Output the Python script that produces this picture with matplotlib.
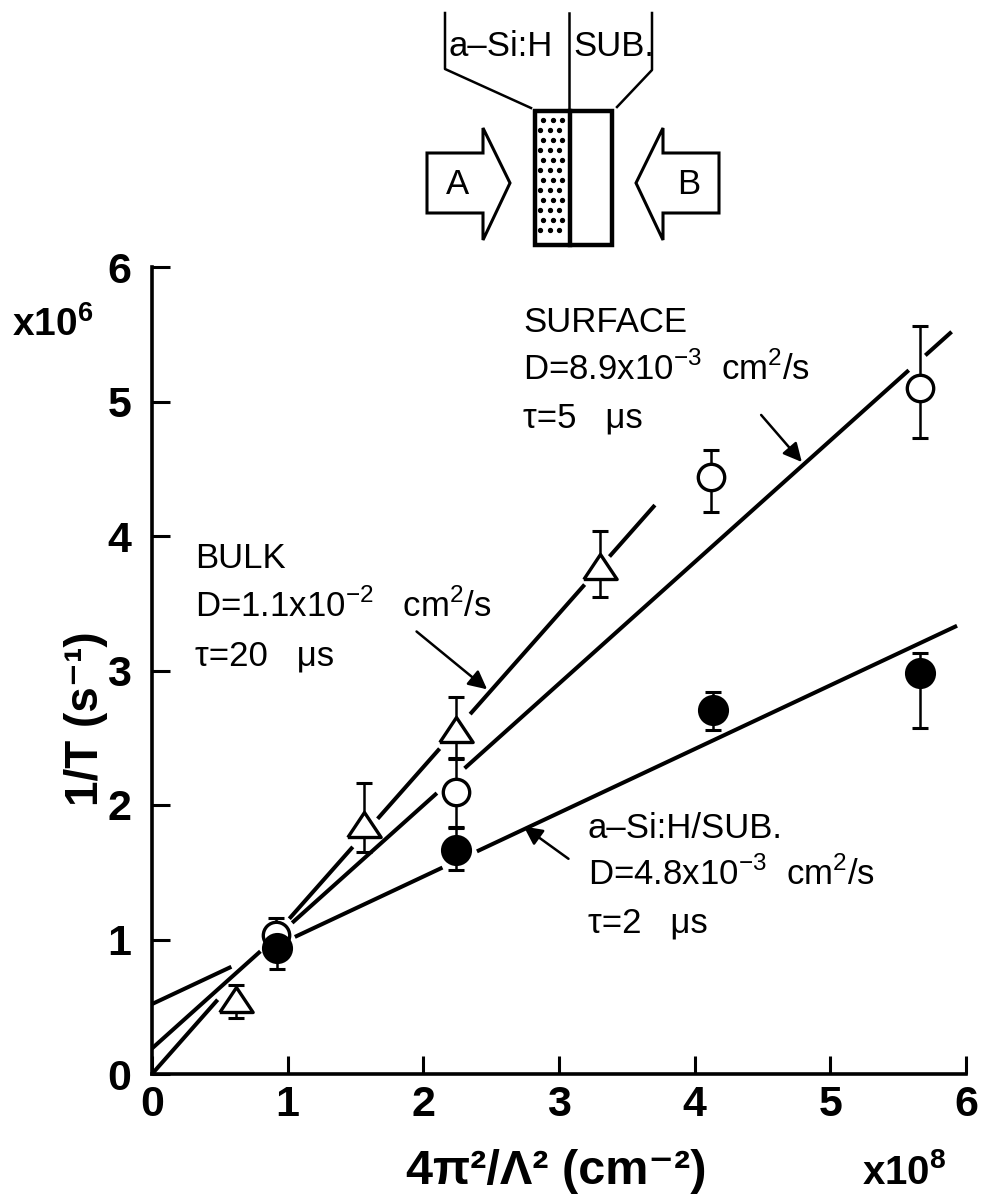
import matplotlib.pyplot as plt
from matplotlib.patches import Polygon, Rectangle
import numpy as np

plt.rcParams['font.family'] = ['Liberation Sans', 'DejaVu Sans']
plt.rcParams['mathtext.fontset'] = 'custom'
plt.rcParams['mathtext.rm'] = 'Liberation Sans'
plt.rcParams['mathtext.bf'] = 'Liberation Sans:bold'

# bulk: open triangles
bulk_x = [0.616, 1.561, 2.243, 3.30]
bulk_y = [0.55, 1.85, 2.56, 3.77]
bulk_lo = [0.42, 1.65, 2.34, 3.55]
bulk_hi = [0.66, 2.16, 2.80, 4.04]

# surface: open circles
surf_x = [0.911, 2.243, 4.124, 5.66]
surf_y = [1.03, 2.10, 4.44, 5.10]
surf_lo = [0.92, 1.84, 4.18, 4.73]
surf_hi = [1.16, 2.35, 4.64, 5.56]

# a-Si:H/SUB.: filled circles
sub_x = [0.921, 2.243, 4.134, 5.66]
sub_y = [0.94, 1.665, 2.71, 2.98]
sub_lo = [0.78, 1.52, 2.56, 2.57]
sub_hi = [1.05, 1.83, 2.84, 3.13]

# fitted lines (slope, intercept) and the x-pieces that are actually inked
bulk_fit = (1.141, 0.0)
surf_fit = (0.904, 0.19)
sub_fit = (0.474, 0.52)
bulk_pieces = [(0, 0.484), (1.012, 1.48), (1.663, 2.12), (2.345, 3.189), (3.372, 3.707)]
surf_pieces = [(0, 0.799), (1.033, 2.10), (2.304, 5.578), (5.70, 5.894)]
sub_pieces = [(0, 0.585), (1.053, 2.141), (2.395, 5.934)]

xticks = [0, 1, 2, 3, 4, 5, 6]
yticks = [0, 1, 2, 3, 4, 5, 6]

W, H = 985, 1199
fig = plt.figure(figsize=(W / 100, H / 100), dpi=100)
ax = fig.add_axes([152 / W, 125 / H, 814 / W, 807 / H])

for (m, b), pieces in [(bulk_fit, bulk_pieces), (surf_fit, surf_pieces), (sub_fit, sub_pieces)]:
    for x0, x1 in pieces:
        xs = np.array([x0, x1])
        ax.plot(xs, m * xs + b, color='k', lw=2.9, solid_capstyle='butt', zorder=2)

tri = [(-1, -0.72), (1, -0.72), (0, 0.78), (-1, -0.72)]


def points(x, y, lo, hi, marker, ms, fill):
    y = np.array(y)
    err = [y - np.array(lo), np.array(hi) - y]
    ax.errorbar(x, y, yerr=err, fmt='none', ecolor='k', elinewidth=1.8,
                capsize=6, capthick=2.2, zorder=3)
    ax.plot(x, y, ls='none', marker=marker, ms=ms, mfc=fill, mec='k',
            mew=2.4, zorder=4)


points(bulk_x, bulk_y, bulk_lo, bulk_hi, tri, 24, 'white')
points(surf_x, surf_y, surf_lo, surf_hi, 'o', 19, 'white')
points(sub_x, sub_y, sub_lo, sub_hi, 'o', 20, 'black')

ax.set_xlim(0, 6)
ax.set_ylim(0, 6)
ax.set_xticks(xticks)
ax.set_yticks(yticks)
ax.spines['top'].set_visible(False)
ax.spines['right'].set_visible(False)
for s in ('left', 'bottom'):
    ax.spines[s].set_linewidth(2.6)
ax.tick_params(direction='in', length=13, width=2.2, labelsize=31)
ax.tick_params(axis='y', pad=15)
ax.tick_params(axis='x', pad=8)
for lab in ax.get_xticklabels() + ax.get_yticklabels():
    lab.set_fontweight('bold')

ax.text(-1.03, 5.49, r'x10$^{\mathbf{6}}$', fontsize=28, fontweight='bold',
        ha='left', va='baseline')
ax.text(5.23, -0.815, r'x10$^{\mathbf{8}}$', fontsize=29, fontweight='bold',
        ha='left', va='baseline')
ax.text(2.98, -0.82, '4π²/Λ² (cm⁻²)', fontsize=35, fontweight='bold',
        ha='center', va='baseline')
ax.text(-0.49, 2.64, '1/T (s⁻¹)', fontsize=33, fontweight='bold', rotation=90,
        ha='center', va='center')

fs = 25
ax.text(0.317, 3.76, 'BULK', fontsize=fs)
ax.text(0.317, 3.40, r'D=1.1x10$^{-2}$   cm$^{2}$/s', fontsize=fs)
ax.text(0.317, 3.04, 'τ=20   μs', fontsize=fs)
ax.text(2.734, 5.52, 'SURFACE', fontsize=fs)
ax.text(2.734, 5.16, r'D=8.9x10$^{-3}$  cm$^{2}$/s', fontsize=fs)
ax.text(2.734, 4.81, 'τ=5   μs', fontsize=fs)
ax.text(3.213, 1.755, 'a–Si:H/SUB.', fontsize=fs)
ax.text(3.213, 1.405, r'D=4.8x10$^{-3}$  cm$^{2}$/s', fontsize=fs)
ax.text(3.213, 1.055, 'τ=2   μs', fontsize=fs)

arrow = dict(arrowstyle='-|>', color='k', lw=1.8, mutation_scale=28, shrinkA=0, shrinkB=0)
ax.annotate('', xy=(2.47, 2.86), xytext=(1.95, 3.29), arrowprops=arrow)
ax.annotate('', xy=(4.79, 4.55), xytext=(4.49, 4.90), arrowprops=arrow)
ax.annotate('', xy=(2.74, 1.84), xytext=(3.07, 1.60), arrowprops=arrow)

# sample sketch above the plot, in pixel units
top = fig.add_axes([0, 0, 1, 1])
top.set_xlim(0, W)
top.set_ylim(H, 0)
top.axis('off')
top.set_facecolor('none')

top.plot([445, 445, 531], [13, 69, 108], color='k', lw=1.8)
top.plot([569, 569], [13, 108], color='k', lw=1.8)
top.plot([652, 652, 617], [13, 70, 107], color='k', lw=1.8)
top.text(501, 47, 'a–Si:H', fontsize=25, ha='center', va='center')
top.text(614, 47, 'SUB.', fontsize=25, ha='center', va='center')

# stippled a-Si:H layer
gx, gy = np.meshgrid([543, 553, 562], np.arange(120, 240, 10))
gx = gx + np.where((gy // 10) % 2 == 0, 0, -3)[:, :1]
top.plot(gx.ravel(), gy.ravel(), ls='none', marker='o', ms=2.8, color='k')
top.add_patch(Rectangle((535, 111), 77, 134, facecolor='none', edgecolor='k', lw=3.2))
top.plot([570, 570], [111, 245], color='k', lw=3.2)

arrow_a = [(427, 153), (483, 153), (483, 128), (510, 183), (483, 240), (483, 213), (427, 213)]
arrow_b = [(2 * 573 - px, py) for px, py in arrow_a]
for pts in (arrow_a, arrow_b):
    top.add_patch(Polygon(pts, closed=True, facecolor='white', edgecolor='k', lw=2.2))
top.text(457, 184, 'A', fontsize=25, ha='center', va='center')
top.text(689, 184, 'B', fontsize=25, ha='center', va='center')

fig.savefig('out.png', dpi=100)
